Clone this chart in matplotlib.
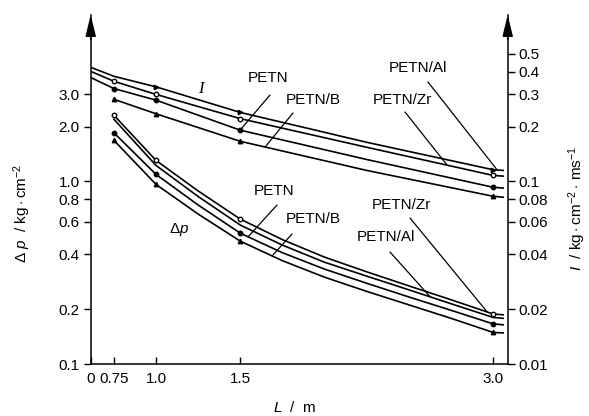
import numpy as np
import matplotlib
matplotlib.use("Agg")
import matplotlib.pyplot as plt
from matplotlib.ticker import FixedLocator, NullLocator

# ---------------------------
# FONTS
# ---------------------------
plt.rcParams["font.family"] = ["Liberation Sans", "DejaVu Sans"]
plt.rcParams["mathtext.fontset"] = "custom"
plt.rcParams["mathtext.rm"] = "Liberation Sans"
plt.rcParams["mathtext.it"] = "Liberation Sans:italic"
plt.rcParams["mathtext.sf"] = "Liberation Sans"

# ---------------------------
# DATA
# ---------------------------
# origin of the broken x axis (labelled "0")
L_ORIGIN = 0.612

# impulse I, kg*cm^-2*ms^-1 (right axis)
L_i = [0.61, 0.75, 1.0, 1.5, 2.25, 3.0, 3.06]
I_al = [0.423, 0.377, 0.330, 0.239, 0.164, 0.116, 0.115]
I_zr = [0.402, 0.354, 0.300, 0.221, 0.154, 0.108, 0.107]
I_petn = [0.372, 0.323, 0.279, 0.191, 0.132, 0.093, 0.092]
L_i_b = [0.75, 1.0, 1.5, 2.25, 3.0, 3.06]
I_b = [0.282, 0.235, 0.166, 0.115, 0.083, 0.082]

# overpressure dp, kg*cm^-2 (left axis)
L_p = [0.75, 1.0, 1.25, 1.5, 1.75, 2.0, 2.25, 2.5, 2.75, 3.0, 3.06]
dp_zr = [2.305, 1.304, 0.887, 0.622, 0.480, 0.385, 0.320, 0.268, 0.225, 0.188, 0.186]
dp_al = [2.191, 1.224, 0.827, 0.577, 0.448, 0.361, 0.303, 0.255, 0.214, 0.180, 0.178]
dp_petn = [1.847, 1.093, 0.743, 0.521, 0.407, 0.331, 0.277, 0.233, 0.197, 0.166, 0.164]
dp_b = [1.680, 0.963, 0.663, 0.471, 0.368, 0.299, 0.250, 0.211, 0.178, 0.149, 0.148]

x_ticks = [L_ORIGIN, 0.75, 1.0, 1.5, 3.0]
x_ticklabels = ["0", "0.75", "1.0", "1.5", "3.0"]
dp_ticks = [0.1, 0.2, 0.4, 0.6, 0.8, 1.0, 2.0, 3.0]
dp_ticklabels = ["0.1", "0.2", "0.4", "0.6", "0.8", "1.0", "2.0", "3.0"]
i_ticks = [0.01, 0.02, 0.04, 0.06, 0.08, 0.1, 0.2, 0.3, 0.4, 0.5]
i_ticklabels = ["0.01", "0.02", "0.04", "0.06", "0.08", "0.1", "0.2", "0.3", "0.4", "0.5"]

# ---------------------------
# FIGURE
# ---------------------------
W, H = 589, 416
fig = plt.figure(figsize=(W / 100, H / 100), dpi=100)
ax = fig.add_axes([90.7 / W, 1 - 364 / H, (507.7 - 90.7) / W, (364 - 15) / H])
ax2 = ax.twinx()

for a in (ax, ax2):
    a.set_yscale("log")
    a.spines["top"].set_visible(False)
    for s in a.spines.values():
        s.set_linewidth(1.1)
ax.spines["right"].set_visible(False)
ax2.spines["left"].set_visible(False)
ax2.spines["bottom"].set_visible(False)

ax.set_xlim(L_ORIGIN, 3.087)
ax.set_ylim(0.1, 8.17)
ax2.set_ylim(0.01, 0.817)

line_kw = dict(color="black", lw=1.2, markersize=3.2)

# I curves
ax2.plot(L_i, I_al, marker=">", markevery=[2, 3, 5], **line_kw)
ax2.plot(L_i, I_zr, marker="o", mfc="white", markevery=[1, 2, 3, 5], **line_kw)
ax2.plot(L_i, I_petn, marker="o", markevery=[1, 2, 3, 5], **line_kw)
ax2.plot(L_i_b, I_b, marker="^", markevery=[0, 1, 2, 4], **line_kw)

# dp curves
mk = [0, 1, 3, 9]
ax.plot(L_p, dp_zr, marker="o", mfc="white", markevery=mk, **line_kw)
ax.plot(L_p, dp_al, **line_kw)
ax.plot(L_p, dp_petn, marker="o", markevery=mk, **line_kw)
ax.plot(L_p, dp_b, marker="^", markevery=mk, **line_kw)

# ticks
ax.xaxis.set_major_locator(FixedLocator(x_ticks))
ax.set_xticklabels(x_ticklabels)
ax.xaxis.set_minor_locator(NullLocator())
ax.tick_params(axis="x", direction="in", length=5, width=1, labelsize=11, pad=6)

ax.yaxis.set_major_locator(FixedLocator(dp_ticks))
ax.set_yticklabels(dp_ticklabels)
ax.yaxis.set_minor_locator(NullLocator())
ax.tick_params(axis="y", direction="out", length=5, width=1, labelsize=11, pad=3)

ax2.yaxis.set_major_locator(FixedLocator(i_ticks))
ax2.set_yticklabels(i_ticklabels)
ax2.yaxis.set_minor_locator(NullLocator())
ax2.tick_params(axis="y", direction="out", length=5, width=1, labelsize=11, pad=3)

# arrow heads on the vertical axes
for xa in (0, 1):
    ax.annotate("", xy=(xa, 1.0), xytext=(xa, 0.93), xycoords="axes fraction",
                arrowprops=dict(arrowstyle="-|>,head_length=0.65,head_width=0.16",
                                mutation_scale=20, color="black", lw=1.1,
                                shrinkA=0, shrinkB=0))

# axis labels
def fpos(px, py):
    return px / W, 1 - py / H

fig.text(*fpos(22, 213), r"$\Delta\ \mathit{p}\ \ /\ \mathrm{kg}\cdot\mathrm{cm}^{-2}$",
         rotation=90, ha="center", va="center", fontsize=11)
fig.text(*fpos(577, 208), r"$\mathit{I}\ \ /\ \mathrm{kg}\cdot\mathrm{cm}^{-2}\cdot\,\mathrm{ms}^{-1}$",
         rotation=90, ha="center", va="center", fontsize=11)
fig.text(*fpos(295, 408), r"$\mathit{L}\ \ /\ \ \mathrm{m}$", ha="center", va="center", fontsize=11)

# curve labels
fig.text(*fpos(201, 89), "I", ha="center", va="center", fontsize=12,
         family="Liberation Serif", style="italic")
fig.text(*fpos(179, 230), r"$\Delta\mathit{p}$", ha="center", va="center", fontsize=11)

def px_to_L(px):
    return L_ORIGIN + (px - 90.7) / 168.4

def on_curve(xs, ys, px):
    x = px_to_L(px)
    return x, 10 ** np.interp(x, xs, np.log10(ys))

labels = [
    # text, text pos, leader start, axes, curve, leader end px
    ("PETN", (268, 78), (270, 95), ax2, (L_i, I_petn), 240),
    ("PETN/B", (313, 100), (293, 113), ax2, (L_i_b, I_b), 265),
    ("PETN/Zr", (402, 100), (405, 112), ax2, (L_i, I_zr), 447),
    ("PETN/Al", (418, 68), (428, 82), ax2, (L_i, I_al), 497),
    ("PETN", (274, 191), (277, 205), ax, (L_p, dp_petn), 248),
    ("PETN/B", (313, 219), (292, 234), ax, (L_p, dp_b), 272),
    ("PETN/Zr", (401, 205), (410, 218), ax, (L_p, dp_zr), 487),
    ("PETN/Al", (386, 237), (390, 252), ax, (L_p, dp_al), 430),
]
for text, tpos, start, a, (xs, ys), end_px in labels:
    fig.text(*fpos(*tpos), text, ha="center", va="center", fontsize=11)
    a.annotate("", xy=on_curve(xs, ys, end_px), xycoords="data",
               xytext=fpos(*start), textcoords="figure fraction",
               arrowprops=dict(arrowstyle="-", color="black", lw=0.9,
                               shrinkA=0, shrinkB=0))

fig.savefig("out.png", dpi=100)
